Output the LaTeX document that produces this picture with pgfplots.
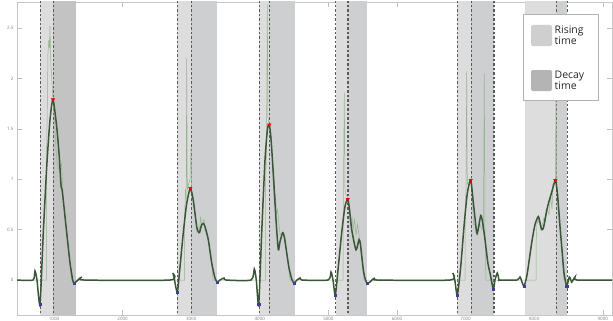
\documentclass[border=0pt]{standalone}
\usepackage{pgfplots}
\pgfplotsset{compat=1.18}
\usepackage{fontspec}
\setmainfont{Open Sans}
\definecolor{rise}{HTML}{DDDDDD}
\definecolor{decay}{HTML}{CDCFD1}
\definecolor{decayA}{HTML}{C3C3C3}
\definecolor{smoothc}{HTML}{3A5538}
\definecolor{rawc}{HTML}{96B48F}
\definecolor{dashc}{HTML}{5A5A5A}
\definecolor{minc}{HTML}{3D3D9E}
\definecolor{legR}{HTML}{CFCFCF}
\definecolor{legD}{HTML}{B4B4B4}
\begin{document}
\begin{tikzpicture}
\begin{axis}[name=ax, scale only axis, width=595bp, height=313bp,
  xmin=17, xmax=612, ymin=-0.347, ymax=2.758,
  axis line style={draw=gray!45},
  tick style={draw=gray!50, line width=0.5pt},
  major tick length=5bp, tick align=inside,
  xtick={54,122.6,191.2,259.8,328.4,397,465.6,534.2,602.8},
  xticklabels={1000,2000,3000,4000,5000,6000,7000,8000,9000},
  ytick={0,0.5,1,1.5,2,2.5},
  yticklabels={0,0.5,1,1.5,2,2.5},
  /pgf/number format/assume math mode=true,
  tick label style={font=\fontsize{4.5}{5}\selectfont, text=gray},
  xticklabel style={yshift=1.3bp},
  clip=true]
% rising bands
\addplot[fill=rise, draw=none] coordinates {(40,-1) (40,3) (53,3) (53,-1)} -- cycle;
\addplot[fill=rise, draw=none] coordinates {(177,-1) (177,3) (191,3) (191,-1)} -- cycle;
\addplot[fill=rise, draw=none] coordinates {(259,-1) (259,3) (269,3) (269,-1)} -- cycle;
\addplot[fill=rise, draw=none] coordinates {(335.5,-1) (335.5,3) (348,3) (348,-1)} -- cycle;
\addplot[fill=rise, draw=none] coordinates {(457,-1) (457,3) (471,3) (471,-1)} -- cycle;
\addplot[fill=rise, draw=none] coordinates {(525,-1) (525,3) (556,3) (556,-1)} -- cycle;
% decay bands
\addplot[fill=decayA, draw=none] coordinates {(53,-1) (53,3) (76,3) (76,-1)} -- cycle;
\addplot[fill=decay, draw=none] coordinates {(191,-1) (191,3) (217,3) (217,-1)} -- cycle;
\addplot[fill=decay, draw=none] coordinates {(269,-1) (269,3) (295,3) (295,-1)} -- cycle;
\addplot[fill=decay, draw=none] coordinates {(348,-1) (348,3) (367,3) (367,-1)} -- cycle;
\addplot[fill=decay, draw=none] coordinates {(471,-1) (471,3) (494,3) (494,-1)} -- cycle;
\addplot[fill=decay, draw=none] coordinates {(556,-1) (556,3) (567,3) (567,-1)} -- cycle;
% dashed lines
\pgfplotsinvokeforeach{40,53,177,191,259,269,335.5,457,471,556,567}{
  \addplot[dashc, line width=0.6pt, dash pattern=on 2.5bp off 2bp] coordinates {(#1,-1) (#1,3)};
}
\pgfplotsinvokeforeach{348,494}{
  \addplot[dashc, line width=1.1pt, dash pattern=on 2.5bp off 2bp] coordinates {(#1,-1) (#1,3)};
}
% raw signal
\addplot[rawc, line width=0.5pt] coordinates {
(17,0) (46.5,0) (46.7,1.3) (48,2.25) (48.8,2.38) (49.5,2.3) (50,2.52) (50.8,2.15) (51.8,2.0) (53,1.78) (54.5,1.6) (56,1.3) (57.3,1.15) (58.5,1.1) (60,1.12) (61.5,1.16) (62.5,0.95) (63.3,0.79) (66.7,0.47) (70,0.17) (71.5,0)
(184.5,0) (184.7,0.65) (185.5,0.9) (186.2,0.8) (186.7,2.2) (187.3,0.9) (188.5,0.95) (190,1.0) (191,1.31) (191.8,0.85) (193.3,0.78) (195,0.65) (196.7,0.48) (198,0.52) (199.5,0.5) (200.5,0.62) (201.5,0.55) (203,0.58) (204,0.6) (205,0.5) (208.3,0.4) (211.7,0.17) (213,0)
(265.5,0) (265.7,1.0) (266.5,1.3) (267.3,2.73) (268,1.6) (269.3,1.55) (271,1.45) (273,1.0) (274.5,0.75) (275.5,0.85) (276.5,0.65) (277.5,0.7) (278.5,0.6) (280,0.45) (282.7,0.47) (286.7,0.27) (289.5,0.05) (290,0)
(343,0) (343.2,0.6) (344.3,1.86) (345,0.9) (346,0.85) (347.7,0.82) (349.5,0.75) (350.5,0.55) (352,0.62) (353,0.5) (354.5,0.6) (356,0.45) (357.5,0.55) (359,0.45) (360.5,0.32) (363,0.12) (364,0)
(465,0) (465.2,0.7) (466,0.9) (466.7,2.07) (467.3,0.95) (469,0.97) (470.7,1.0) (472,0.9) (473.5,0.55) (475,0.55) (476.7,0.45) (478,0.5) (480,0.55) (482,0.5) (483.5,0.6) (484.3,2.05) (485,0.5) (485.6,0.3) (485.8,0)
(536,0) (536.2,0.4) (537,0.55) (538.3,0.6) (539.5,0.55) (541,0.5) (542.5,0.55) (544,0.62) (545.5,0.58) (547,0.7) (549,0.65) (550.5,0.85) (552,0.7) (553,0.95) (554.5,0.95) (555.3,1.0) (556,1.79) (556.8,0.95) (558,0.8) (560,0.55) (562,0.3) (563.5,0.05) (564,0) (612,0)
};
% smooth signal
\addplot[smoothc, line width=1.5pt, smooth, tension=0.4] coordinates {
(17,0) (33,0) (35,0.09) (37,0.0) (40,-0.24) (43.3,0.47) (46.7,1.12) (50,1.59) (53,1.79) (56.7,1.52) (59.3,1.22) (61,0.94) (62,0.9) (63.3,0.79) (66.7,0.47) (70,0.17) (72.7,0.0) (74,-0.03) (77,-0.01) (79,0.01) (82,0.03) (84,0)
(170,0) (172.7,0.07) (174.5,0.0) (177.3,-0.12) (180,0.13) (183.3,0.47) (186.7,0.76) (190.3,0.91) (193.3,0.79) (196.7,0.53) (198.3,0.48) (199.5,0.47) (201.7,0.55) (203.5,0.56) (205,0.53) (208.3,0.40) (211.7,0.17) (215,0.02) (217.3,-0.02) (220,0.0) (224,0.02) (226,0)
(251,0) (254.3,0.11) (256.3,0.0) (258.7,-0.24) (261.7,0.47) (265,1.19) (267.5,1.5) (269.3,1.54) (271,1.4) (273.3,1.06) (276,0.6) (278.3,0.3) (280,0.38) (282.7,0.47) (284.5,0.42) (286.7,0.27) (289,0.12) (291.7,0.01) (294,-0.03) (297,0) (300,0.02) (302,0)
(328,0) (331,0.08) (333,0.0) (335.3,-0.15) (338.3,0.13) (341.7,0.47) (345,0.73) (347.7,0.80) (349.5,0.7) (351.7,0.5) (356,0.3) (359,0.4) (360.5,0.35) (363.3,0.1) (365.5,0.0) (367.3,-0.03) (370,-0.02) (372,0.0) (375,0.02) (377,0)
(450,0) (452.7,0.07) (454.8,0.0) (457.3,-0.15) (460.7,0.13) (464,0.53) (467.3,0.86) (470.7,0.99) (473,0.8) (476.7,0.47) (478.5,0.52) (480.7,0.64) (482.5,0.58) (485,0.4) (488,0.16) (490,0.07) (493.3,-0.09) (495,0.0) (497.3,0.07) (499,0.0) (500,0)
(517,0) (520,0.03) (522,-0.02) (524,-0.06) (527,0.05) (531.7,0.37) (535,0.55) (538.3,0.63) (540,0.57) (541.7,0.5) (543.5,0.52) (546.7,0.69) (549,0.78) (551.7,0.87) (555.3,0.99) (557.5,0.85) (560,0.53) (562,0.3) (564,0.07) (566.7,-0.06) (569.3,0.03) (571.7,-0.02) (573,0.0) (575,0.03) (577,0) (612,0)
};
% peak markers
\addplot[only marks, mark=triangle*, mark size=2bp, color=red!90!black, fill=red, mark options={rotate=180}] coordinates {
(53,1.79) (190.3,0.91) (269.3,1.54) (347.7,0.80) (470.7,0.99) (555.3,0.99)};
% minima markers
\addplot[only marks, mark=square*, mark size=1.3bp, draw=minc, fill=minc] coordinates {
(40,-0.24) (74,-0.03) (177.3,-0.12) (217.3,-0.02) (258.7,-0.24) (294,-0.03) (335.3,-0.15) (367.3,-0.03) (457.3,-0.15) (493.3,-0.09) (524,-0.06) (566.7,-0.06)};
% legend
\draw[gray!60, fill=white, line width=0.5pt] (axis cs:523,2.639) rectangle (axis cs:598,1.786);
\fill[legR, rounded corners=2bp] (axis cs:531,2.53) rectangle (axis cs:552,2.32);
\fill[legD, rounded corners=2bp] (axis cs:531,2.083) rectangle (axis cs:552,1.875);
\node[anchor=west, align=left, font=\fontsize{10.5}{7.5}\selectfont, text=black!85, inner sep=0pt] at (axis cs:554.5,2.43) {Rising\\time};
\node[anchor=west, align=left, font=\fontsize{10.5}{7.5}\selectfont, text=black!85, inner sep=0pt] at (axis cs:554.5,1.985) {Decay\\time};
\end{axis}
\pgfresetboundingbox
\path ([xshift=-17bp,yshift=-6bp]ax.south west) rectangle ([xshift=1bp,yshift=2bp]ax.north east);
\end{tikzpicture}
\end{document}
